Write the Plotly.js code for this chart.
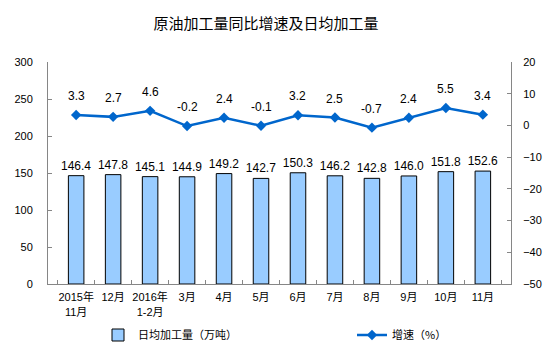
<!DOCTYPE html>
<html>
<head>
<meta charset="utf-8">
<script src="https://cdn.plot.ly/plotly-3.0.1.min.js"></script>
<style>html,body{margin:0;padding:0;background:#fff;}#chart{width:554px;height:353px;}</style>
</head>
<body>
<div id="chart"></div>
<script>
const categories = ["2015年<br>11月", "12月", "2016年<br>1-2月", "3月", "4月", "5月", "6月", "7月", "8月", "9月", "10月", "11月"];
const dailyOutput = [146.4, 147.8, 145.1, 144.9, 149.2, 142.7, 150.3, 146.2, 142.8, 146.0, 151.8, 152.6];
const growthRate = [3.3, 2.7, 4.6, -0.2, 2.4, -0.1, 3.2, 2.5, -0.7, 2.4, 5.5, 3.4];
const barName = "日均加工量（万吨）";
const lineName = "增速（%）";
const titleText = "原油加工量同比增速及日均加工量";

const FONT = "'Liberation Sans', Arial, 'Noto Sans CJK SC', sans-serif";
const CJK = "'Noto Sans CJK SC', sans-serif";
const GRAY = "#868686";

const barTrace = {
  type: "bar",
  x: categories,
  y: dailyOutput,
  name: barName,
  legend: "legend",
  width: 0.42,
  marker: {color: "#99CCFF", line: {color: "#000000", width: 1}},
  text: dailyOutput.map(v => v.toFixed(1)),
  textposition: "outside",
  constraintext: "none",
  textfont: {family: FONT, size: 12, color: "#000"},
  cliponaxis: false,
  hoverinfo: "skip"
};

const lineTrace = {
  type: "scatter",
  mode: "lines+markers",
  x: categories,
  y: growthRate,
  yaxis: "y2",
  name: lineName,
  legend: "legend2",
  line: {color: "#0066CC", width: 2.5},
  marker: {symbol: "diamond", size: 8, color: "#0066CC"},
  cliponaxis: false,
  hoverinfo: "skip"
};

const annotations = growthRate.map((v, i) => ({
  x: categories[i], y: v, xref: "x", yref: "y2",
  text: v.toFixed(1), showarrow: false, yshift: 19,
  font: {family: FONT, size: 12, color: "#000"}
}));

const legendCommon = {
  orientation: "h", xref: "container", yref: "container", xanchor: "left", yanchor: "middle",
  y: 1 - 335/353, font: {family: CJK, size: 11, color: "#000"}, itemwidth: 30,
  bgcolor: "rgba(0,0,0,0)"
};

const layout = {
  width: 554, height: 353,
  margin: {l: 48, r: 43, t: 62, b: 69, autoexpand: false},
  paper_bgcolor: "#fff", plot_bgcolor: "#fff",
  showlegend: true,
  title: {
    text: titleText, x: 266/554, xref: "container", xanchor: "center",
    y: 1 - 24/353, yref: "container", yanchor: "middle",
    font: {family: CJK, size: 15, color: "#000"}
  },
  xaxis: {
    type: "category", tickangle: 0,
    showline: true, linecolor: GRAY, linewidth: 1,
    ticks: "inside", ticklen: 4, tickcolor: GRAY, tickson: "boundaries",
    tickfont: {family: FONT, size: 11, color: "#000"},
    ticklabelstandoff: 3,
    showgrid: false, zeroline: false, fixedrange: true
  },
  yaxis: {
    range: [0, 300], dtick: 50,
    showline: true, linecolor: GRAY, linewidth: 1,
    ticks: "inside", ticklen: 4, tickcolor: GRAY,
    tickfont: {family: FONT, size: 11, color: "#000"},
    ticklabelstandoff: 12,
    showgrid: false, zeroline: false, fixedrange: true
  },
  yaxis2: {
    range: [-50, 20], dtick: 10, overlaying: "y", side: "right",
    showline: true, linecolor: GRAY, linewidth: 1,
    ticks: "inside", ticklen: 4, tickcolor: GRAY,
    tickfont: {family: FONT, size: 11, color: "#000"},
    ticklabelstandoff: 9,
    showgrid: false, zeroline: false, fixedrange: true
  },
  legend: Object.assign({}, legendCommon, {x: 98/554}),
  legend2: Object.assign({}, legendCommon, {x: 352/554}),
  annotations: annotations
};

Plotly.newPlot("chart", [barTrace, lineTrace], layout, {staticPlot: true, displayModeBar: false});
</script>
</body>
</html>
